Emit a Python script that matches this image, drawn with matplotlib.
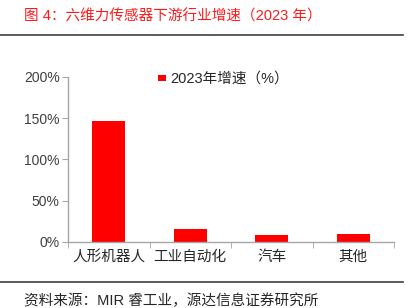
import matplotlib
matplotlib.use("Agg")
import matplotlib.pyplot as plt
from matplotlib.lines import Line2D

plt.rcParams['font.family'] = ['Liberation Sans', 'Noto Sans CJK SC']

categories = ['人形机器人', '工业自动化', '汽车', '其他']
growth = [147, 15, 8.5, 9.5]
yticks = [0, 50, 100, 150, 200]
ytick_labels = ['0%', '50%', '100%', '150%', '200%']

W, H = 414, 308
fig = plt.figure(figsize=(W / 100, H / 100), dpi=100)
ax = fig.add_axes([68 / W, 1 - 241.7 / H, (394 - 68) / W, (241.7 - 77) / H])

ax.bar(range(len(categories)), growth, width=0.4, color='#ff0000', label='2023年增速（%）')
ax.set_xlim(-0.5, len(categories) - 0.5)
ax.set_ylim(0, 200)
ax.set_yticks(yticks)
ax.set_yticklabels(ytick_labels, fontsize=10, color='#404040')
ax.set_xticks(range(len(categories)))
ax.set_xticklabels(categories, fontsize=10.5, color='#262626')
ax.set_xticks([i + 0.5 for i in range(-1, len(categories))], minor=True)
ax.tick_params(axis='x', which='major', length=0, pad=6)
ax.tick_params(axis='x', which='minor', length=4, color='#a6a6a6', direction='out')
ax.tick_params(axis='y', length=4, color='#a6a6a6', pad=2)
for s in ['top', 'right']:
    ax.spines[s].set_visible(False)
for s in ['left', 'bottom']:
    ax.spines[s].set_color('#a6a6a6')
    ax.spines[s].set_linewidth(1)

ax.legend(loc='upper left', bbox_to_anchor=(0.235, 1.11), frameon=False, fontsize=10.5,
          handlelength=0.55, handleheight=0.3, handletextpad=0.3, labelcolor='#262626')

fig.text(24 / W, 1 - 16 / H, '图 4：六维力传感器下游行业增速（2023 年）', color='#ff1a1a',
         fontsize=10.5, va='center', ha='left')
fig.add_artist(Line2D([0, 403 / W], [1 - 35 / H, 1 - 35 / H], color='#404040', lw=1.2))
fig.add_artist(Line2D([0, 403 / W], [1 - 282 / H, 1 - 282 / H], color='#404040', lw=1.2))
fig.text(24 / W, 1 - 301 / H, '资料来源：MIR 睿工业，源达信息证券研究所', color='#262626',
         fontsize=10.5, va='center', ha='left')

fig.savefig('out.png', dpi=100)
